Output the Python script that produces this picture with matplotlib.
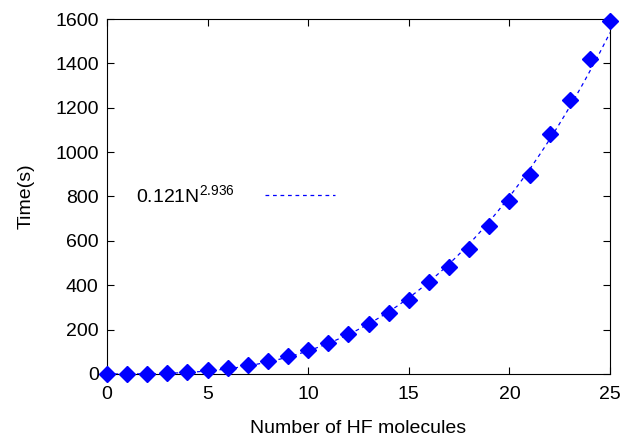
import numpy as np
import matplotlib.pyplot as plt

plt.rcParams['font.family'] = ['Liberation Sans', 'DejaVu Sans']
plt.rcParams['mathtext.default'] = 'regular'

n_mol = [0, 1, 2, 3, 4, 5, 6, 7, 8, 9, 10, 11, 12, 13, 14, 15, 16, 17, 18, 19, 20, 21, 22, 23, 24, 25]
times = [0, 0.5, 1.5, 3, 9, 18, 27, 41, 59, 81, 108, 140, 180, 225, 275, 333, 415, 482, 563, 667, 780, 897, 1082, 1235, 1420, 1591]
fit_a = 0.121
fit_b = 2.936

fig = plt.figure(figsize=(6.2, 4.37), dpi=100)
ax = fig.add_axes([0.1726, 0.1442, 0.8113, 0.8123])

nn = np.linspace(0, 25, 300)
ax.plot(nn, fit_a * nn ** fit_b, color='blue', lw=0.9, dashes=(3, 3),
        label='0.121N$^{2.936}$')
ax.plot(n_mol, times, 'D', color='blue', ms=8.5, clip_on=False, zorder=3)

ax.set_xlim(0, 25)
ax.set_ylim(0, 1600)
ax.set_xticks([0, 5, 10, 15, 20, 25])
ax.set_yticks(range(0, 1601, 200))
ax.tick_params(direction='in', top=True, right=True, labelsize=14, length=5, pad=6)
ax.tick_params(axis='x', pad=9)
ax.set_xlabel('Number of HF molecules', fontsize=14, labelpad=12)
ax.set_ylabel('Time(s)', fontsize=14, labelpad=15)

ax.legend(loc='center left', bbox_to_anchor=(0.022, 0.504), frameon=False,
          markerfirst=False, fontsize=14, handlelength=3.6, handletextpad=1.6)

fig.savefig('out.png', dpi=100)
